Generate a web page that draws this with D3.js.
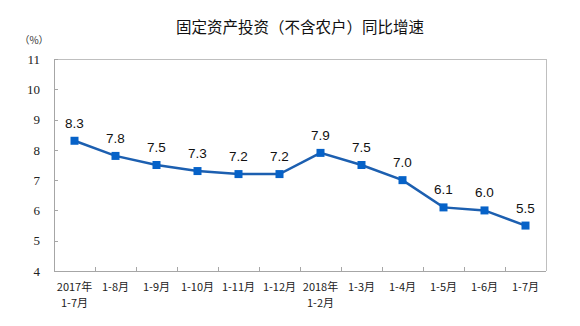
<!DOCTYPE html>
<html>
<head>
<meta charset="utf-8">
<script src="https://cdn.jsdelivr.net/npm/d3@7"></script>
<style>
  html, body { margin: 0; padding: 0; background: #fff; }
  svg { display: block; }
</style>
</head>
<body>
<svg id="chart" width="580" height="326"></svg>
<script>
// Cumulative months, values in percent
const categories = [
  ["2017年", "1-7月"], ["1-8月"], ["1-9月"], ["1-10月"], ["1-11月"], ["1-12月"],
  ["2018年", "1-2月"], ["1-3月"], ["1-4月"], ["1-5月"], ["1-6月"], ["1-7月"]
];
const growth = [8.3, 7.8, 7.5, 7.3, 7.2, 7.2, 7.9, 7.5, 7.0, 6.1, 6.0, 5.5];
const yTicks = [4, 5, 6, 7, 8, 9, 10, 11];
const title = "固定资产投资（不含农户）同比增速";
const unit = "（%）";

const svg = d3.select("#chart");
const plotLeft = 54, plotRight = 546, plotTop = 59, plotBottom = 271;

const x = d3.scaleBand().domain(d3.range(categories.length)).range([plotLeft, plotRight]);
const y = d3.scaleLinear().domain([4, 11]).range([plotBottom, plotTop]);

const cjk = "'SimSun','Noto Sans CJK SC',sans-serif";

// Title
svg.append("text")
  .attr("x", 300).attr("y", 33)
  .attr("text-anchor", "middle")
  .style("font-family", "'Noto Sans CJK SC',sans-serif")
  .style("font-size", "15.5px")
  .style("fill", "#111")
  .text(title);

// Unit label
svg.append("text")
  .attr("x", 34).attr("y", 44)
  .attr("text-anchor", "middle")
  .style("font-family", cjk)
  .style("font-size", "10px")
  .style("fill", "#333")
  .text(unit);

// Frame (top and right)
svg.append("path")
  .attr("d", `M${plotLeft},${plotTop}H${plotRight}V${plotBottom}`)
  .attr("fill", "none").attr("stroke", "#bfbfbf").attr("stroke-width", 1)
  .attr("shape-rendering", "crispEdges");

// Y axis, ticks pointing inward
const yAxis = svg.append("g")
  .attr("transform", `translate(${plotLeft},0)`)
  .call(d3.axisLeft(y).tickValues(yTicks).tickSize(-4).tickPadding(14).tickFormat(d3.format("d")));
yAxis.select(".domain").attr("stroke", "#a6a6a6").attr("shape-rendering", "crispEdges");
yAxis.selectAll(".tick line").attr("stroke", "#a6a6a6").attr("shape-rendering", "crispEdges");
yAxis.selectAll("text")
  .style("font-family", "'Liberation Serif','Times New Roman',serif")
  .style("font-size", "13px")
  .style("fill", "#222");

// X axis with boundary ticks pointing inward
const xg = svg.append("g");
xg.append("line")
  .attr("x1", plotLeft).attr("x2", plotRight).attr("y1", plotBottom).attr("y2", plotBottom)
  .attr("stroke", "#a6a6a6").attr("shape-rendering", "crispEdges");
xg.selectAll("line.tk")
  .data(d3.range(1, categories.length))
  .join("line")
  .attr("class", "tk")
  .attr("x1", i => x(i)).attr("x2", i => x(i))
  .attr("y1", plotBottom).attr("y2", plotBottom - 4)
  .attr("stroke", "#a6a6a6").attr("shape-rendering", "crispEdges");

const lbl = xg.selectAll("text.cat")
  .data(categories)
  .join("text")
  .attr("class", "cat")
  .attr("text-anchor", "middle")
  .attr("transform", (d, i) => `translate(${x(i) + x.bandwidth() / 2},${plotBottom + 20})`)
  .style("font-family", cjk)
  .style("font-size", "11px")
  .style("fill", "#222");
lbl.selectAll("tspan")
  .data(d => d)
  .join("tspan")
  .attr("x", 0)
  .attr("dy", (d, j) => j === 0 ? 0 : 16)
  .text(d => d);

// Line
const cx = i => x(i) + x.bandwidth() / 2;
svg.append("path")
  .datum(growth)
  .attr("fill", "none")
  .attr("stroke", "#1c5fb0")
  .attr("stroke-width", 2.5)
  .attr("d", d3.line().x((d, i) => cx(i)).y(d => y(d)));

// Markers
svg.selectAll("rect.pt")
  .data(growth)
  .join("rect")
  .attr("class", "pt")
  .attr("x", (d, i) => cx(i) - 4)
  .attr("y", d => y(d) - 4)
  .attr("width", 8).attr("height", 8)
  .attr("fill", "#0662c8");

// Value labels
svg.selectAll("text.val")
  .data(growth)
  .join("text")
  .attr("class", "val")
  .attr("x", (d, i) => cx(i))
  .attr("y", d => y(d) - 13)
  .attr("text-anchor", "middle")
  .style("font-family", "'Liberation Sans',Arial,sans-serif")
  .style("font-size", "13.5px")
  .style("fill", "#111")
  .text(d => d.toFixed(1));
</script>
</body>
</html>
